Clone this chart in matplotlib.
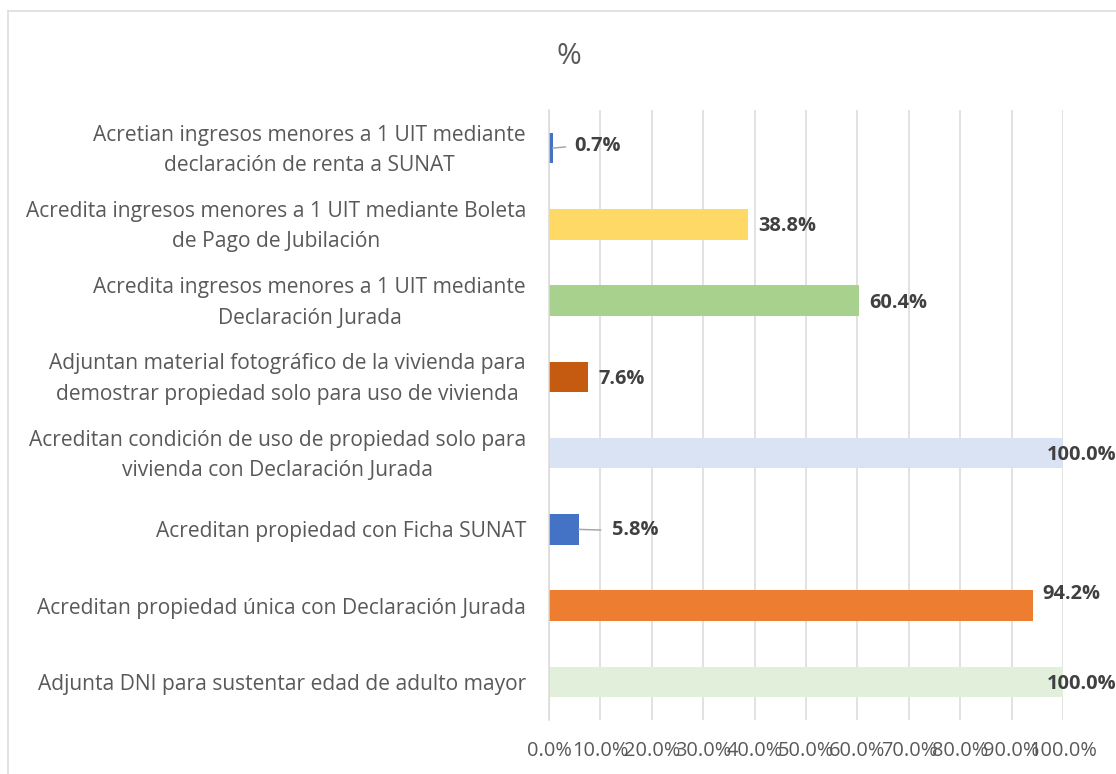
import matplotlib.pyplot as plt
from matplotlib.lines import Line2D
from matplotlib.transforms import ScaledTranslation

# categories top to bottom as in the chart
categorias = [
    "Acretian ingresos menores a 1 UIT mediante\ndeclaración de renta a SUNAT",
    "Acredita ingresos menores a 1 UIT mediante Boleta\nde Pago de Jubilación",
    "Acredita ingresos menores a 1 UIT mediante\nDeclaración Jurada",
    "Adjuntan material fotográfico de la vivienda para\ndemostrar propiedad solo para uso de vivienda",
    "Acreditan condición de uso de propiedad solo para\nvivienda con Declaración Jurada",
    "Acreditan propiedad con Ficha SUNAT",
    "Acreditan propiedad única con Declaración Jurada",
    "Adjunta DNI para sustentar edad de adulto mayor",
]
porcentajes = [0.7, 38.8, 60.4, 7.6, 100.0, 5.8, 94.2, 100.0]
colores = ["#4472C4", "#FFD966", "#A9D18E", "#C55A11",
           "#DAE3F3", "#4472C4", "#ED7D31", "#E2EFDA"]
ticks = [0, 10, 20, 30, 40, 50, 60, 70, 80, 90, 100]

plt.rcParams['font.family'] = ['Open Sans', 'DejaVu Sans']

fig = plt.figure(figsize=(1116 / 72, 774 / 72), dpi=72)
ax = fig.add_axes([549 / 1116, 1 - 720 / 774, (1063 - 549) / 1116, (720 - 110) / 774])

n = len(categorias)
pos = [n - 1 - i for i in range(n)]
ax.barh(pos, porcentajes, height=0.4, color=colores, zorder=3)

ax.set_xlim(0, 100)
ax.set_ylim(-0.5, n - 0.5)
ax.set_xticks(ticks)
ax.set_xticklabels([f"{t:.1f}%" for t in ticks], fontsize=20, color="#595959")
ax.set_yticks(pos)
ax.set_yticklabels(categorias, fontsize=21, color="#595959",
                   linespacing=1.6, multialignment='center')
ax.tick_params(axis='both', length=0)
ax.tick_params(axis='x', pad=21)
ax.tick_params(axis='y', pad=23)
ax.grid(axis='x', color="#D9D9D9", linewidth=1.5, zorder=0)
for s in ['top', 'right', 'bottom']:
    ax.spines[s].set_visible(False)
ax.spines['left'].set_color("#D9D9D9")
ax.spines['left'].set_linewidth(1.5)
ax.spines['left'].set_zorder(4)

# two-line labels sit a bit higher in the original
for lab in ax.get_yticklabels():
    if "\n" in lab.get_text():
        lab.set_transform(lab.get_transform() + ScaledTranslation(0, 5 / 72, fig.dpi_scale_trans))

# data labels (Excel-like placement)
for p, v in zip(pos, porcentajes):
    txt = f"{v:.1f}%"
    kw = dict(fontsize=20, fontweight='bold', color="#404040",
              textcoords='offset points', va='center', ha='left', annotation_clip=False)
    if v >= 99:
        ax.annotate(txt, xy=(v, p), xytext=(-16, -2), **kw)
    elif v > 90:
        ax.annotate(txt, xy=(v, p), xytext=(9, 12), **kw)
    elif v < 1:
        ax.annotate(txt, xy=(v, p), xytext=(22, 2), **kw,
                    arrowprops=dict(arrowstyle='-', color="#A6A6A6", lw=1.5,
                                    shrinkA=7, shrinkB=0, relpos=(0, 0.5)))
    elif v < 6:
        ax.annotate(txt, xy=(v, p), xytext=(33, -1), **kw,
                    arrowprops=dict(arrowstyle='-', color="#A6A6A6", lw=1.5,
                                    shrinkA=9, shrinkB=0, relpos=(0, 0.5)))
    else:
        ax.annotate(txt, xy=(v, p), xytext=(10, -2), **kw)

fig.text(569 / 1116, 1 - 57 / 774, "%", fontsize=30, color="#595959", ha='center', va='center')

# chart area border
fig.add_artist(Line2D([8 / 1116, 8 / 1116], [0, 1 - 11 / 774], color="#D9D9D9", lw=1.5))
fig.add_artist(Line2D([8 / 1116, 1], [1 - 11 / 774, 1 - 11 / 774], color="#D9D9D9", lw=1.5))

fig.savefig("out.png", dpi=72, facecolor="white")
